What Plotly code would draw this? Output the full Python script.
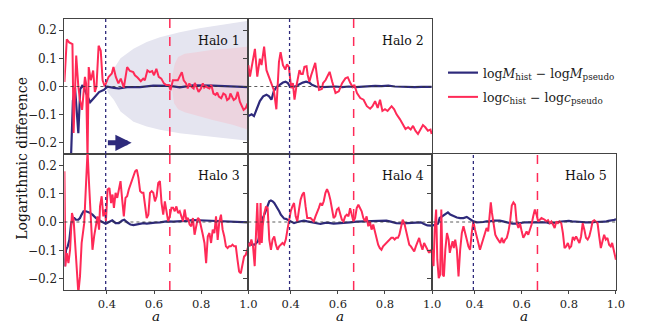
import plotly.graph_objects as go

# (a, value) readings per halo: navy = log M_hist - log M_pseudo, red = log c_hist - log c_pseudo
mass_1 = [(0.22, -0.6), (0.244, -0.35), (0.256, -0.05), (0.265, -0.005), (0.279, -0.166), (0.287, -0.01),
          (0.297, 0.005), (0.315, -0.03), (0.329, -0.056), (0.346, -0.04), (0.367, -0.02), (0.388, -0.012),
          (0.402, -0.001), (0.43, -0.005), (0.451, -0.007), (0.486, -0.002), (0.541, -0.002), (0.597, 0.003),
          (0.667, 0.002), (0.709, -0.003), (0.765, 0.004), (0.849, 0.003), (0.933, 0.0), (1.0, -0.002)]
conc_1 = [(0.22, 0.016), (0.23, 0.168), (0.24, 0.157), (0.247, 0.153), (0.254, 0.151), (0.259, -0.165),
          (0.27, 0.11), (0.279, 0.0), (0.286, -0.048), (0.295, -0.083), (0.307, 0.034), (0.312, 0.01),
          (0.318, -0.26), (0.323, 0.069), (0.332, 0.022), (0.342, 0.057), (0.349, -0.019), (0.356, 0.0),
          (0.365, 0.145), (0.374, 0.127), (0.382, 0.022), (0.391, 0.0), (0.407, 0.034), (0.421, 0.046),
          (0.428, 0.069), (0.438, 0.034), (0.449, 0.011), (0.459, 0.028), (0.472, -0.004), (0.486, 0.069),
          (0.498, 0.055), (0.512, 0.051), (0.519, 0.04), (0.53, 0.032), (0.544, 0.019), (0.554, 0.028),
          (0.561, 0.022), (0.572, 0.057), (0.582, 0.051), (0.592, 0.055), (0.6, 0.04), (0.61, 0.063),
          (0.62, 0.034), (0.631, 0.028), (0.642, 0.011), (0.652, 0.005), (0.663, 0.005), (0.67, -0.013),
          (0.68, 0.022), (0.69, 0.022), (0.701, 0.022), (0.709, 0.036), (0.718, 0.051), (0.726, 0.022),
          (0.736, 0.011), (0.743, -0.007), (0.75, 0.011), (0.759, -0.001), (0.768, -0.007), (0.773, 0.013),
          (0.782, -0.004), (0.789, -0.019), (0.799, -0.007), (0.807, 0.011), (0.813, -0.004), (0.82, 0.001),
          (0.827, -0.004), (0.835, -0.007), (0.843, 0.005), (0.852, -0.025), (0.861, -0.03), (0.868, -0.022),
          (0.875, -0.036), (0.885, -0.042), (0.894, -0.025), (0.903, -0.03), (0.91, -0.048), (0.919, -0.042),
          (0.924, -0.025), (0.931, -0.036), (0.938, -0.048), (0.947, -0.042), (0.955, -0.019), (0.964, -0.054),
          (0.972, -0.071), (0.98, -0.083), (0.989, -0.077), (0.997, -0.06)]

mass_2 = [(0.22, -0.105), (0.234, -0.099), (0.244, -0.105), (0.255, -0.081), (0.269, -0.052), (0.283, -0.035),
          (0.297, -0.029), (0.308, -0.035), (0.318, -0.047), (0.328, -0.017), (0.339, -0.002), (0.353, 0.006),
          (0.367, 0.014), (0.378, 0.017), (0.388, 0.012), (0.395, 0.002), (0.409, -0.002), (0.423, 0.002),
          (0.437, 0.009), (0.451, 0.014), (0.465, 0.017), (0.479, 0.014), (0.49, 0.006), (0.507, 0.0),
          (0.534, -0.002), (0.562, 0.0), (0.59, 0.0), (0.618, -0.002), (0.646, 0.0), (0.674, -0.002),
          (0.702, 0.0), (0.73, 0.002), (0.758, 0.002), (0.786, 0.001), (0.814, 0.003), (0.842, 0.0),
          (0.87, -0.001), (0.898, 0.0), (0.926, -0.002), (0.954, -0.001), (0.982, -0.002), (0.998, -0.001)]
conc_2 = [(0.22, 0.076), (0.227, 0.035), (0.248, 0.134), (0.258, 0.035), (0.269, 0.099), (0.276, 0.076),
          (0.287, 0.142), (0.297, 0.058), (0.307, 0.035), (0.318, 0.012), (0.328, -0.012), (0.339, -0.081),
          (0.35, 0.087), (0.357, 0.122), (0.367, 0.076), (0.377, 0.06), (0.384, 0.079), (0.392, 0.07),
          (0.402, -0.006), (0.409, 0.012), (0.416, -0.047), (0.425, 0.006), (0.437, 0.058), (0.444, 0.044),
          (0.451, 0.044), (0.458, 0.07), (0.467, 0.072), (0.472, 0.041), (0.479, 0.017), (0.487, 0.041),
          (0.504, 0.084), (0.513, 0.026), (0.52, -0.012), (0.532, -0.009), (0.537, 0.012), (0.548, 0.023),
          (0.565, 0.052), (0.576, 0.017), (0.59, -0.023), (0.604, -0.017), (0.618, 0.012), (0.632, 0.029),
          (0.642, 0.033), (0.653, 0.012), (0.663, -0.002), (0.67, 0.006), (0.681, -0.023), (0.695, -0.041),
          (0.709, -0.047), (0.723, -0.07), (0.737, -0.079), (0.747, -0.07), (0.758, -0.052), (0.769, -0.076),
          (0.779, -0.047), (0.789, -0.087), (0.8, -0.081), (0.811, -0.087), (0.821, -0.076), (0.828, -0.07),
          (0.839, -0.081), (0.849, -0.099), (0.863, -0.116), (0.877, -0.134), (0.887, -0.151), (0.898, -0.145),
          (0.909, -0.153), (0.919, -0.14), (0.929, -0.157), (0.94, -0.169), (0.951, -0.151), (0.961, -0.137),
          (0.971, -0.145), (0.982, -0.157), (0.993, -0.153), (0.998, -0.169)]

mass_3 = [(0.22, -0.157), (0.227, -0.098), (0.234, -0.086), (0.241, -0.063), (0.248, -0.009), (0.255, 0.014),
          (0.262, 0.014), (0.269, 0.008), (0.279, 0.008), (0.286, 0.014), (0.293, 0.026), (0.301, 0.038),
          (0.311, 0.038), (0.325, 0.034), (0.339, 0.026), (0.353, 0.014), (0.367, 0.006), (0.381, -0.001),
          (0.395, -0.006), (0.409, 0.0), (0.423, 0.006), (0.437, -0.004), (0.451, -0.004), (0.465, 0.005),
          (0.474, 0.008), (0.486, -0.001), (0.5, -0.009), (0.513, -0.011), (0.527, -0.008), (0.541, -0.006),
          (0.555, -0.004), (0.569, -0.006), (0.583, -0.004), (0.604, -0.002), (0.625, -0.001), (0.653, 0.002),
          (0.681, 0.001), (0.709, 0.002), (0.737, 0.004), (0.765, 0.007), (0.793, 0.006), (0.821, 0.006),
          (0.849, 0.006), (0.877, 0.005), (0.905, 0.004), (0.933, 0.001), (0.961, 0.0), (1.0, -0.001)]
conc_3 = [(0.22, 0.179), (0.224, -0.157), (0.23, -0.11), (0.237, -0.145), (0.244, -0.098), (0.252, 0.032),
          (0.259, 0.008), (0.266, -0.098), (0.273, -0.169), (0.279, -0.251), (0.286, -0.192), (0.293, -0.074),
          (0.304, -0.004), (0.311, 0.138), (0.318, 0.25), (0.325, 0.126), (0.332, -0.004), (0.339, -0.098),
          (0.346, -0.051), (0.353, -0.015), (0.36, 0.02), (0.367, -0.027), (0.371, 0.055), (0.378, 0.091),
          (0.385, 0.02), (0.392, 0.044), (0.396, 0.002), (0.403, 0.115), (0.411, 0.12), (0.418, 0.067),
          (0.424, 0.097), (0.43, 0.05), (0.437, 0.103), (0.444, 0.085), (0.451, 0.115), (0.458, 0.144),
          (0.465, 0.079), (0.472, 0.02), (0.479, 0.085), (0.486, 0.091), (0.493, 0.115), (0.5, 0.132),
          (0.507, 0.15), (0.513, 0.168), (0.52, 0.179), (0.527, 0.185), (0.534, 0.156), (0.541, 0.109),
          (0.548, 0.103), (0.555, 0.103), (0.562, 0.055), (0.569, 0.014), (0.576, 0.026), (0.583, 0.103),
          (0.59, 0.109), (0.597, 0.103), (0.604, 0.073), (0.611, 0.091), (0.618, 0.138), (0.625, 0.144),
          (0.632, 0.067), (0.639, 0.026), (0.646, 0.073), (0.653, 0.032), (0.66, 0.002), (0.667, 0.02),
          (0.674, 0.05), (0.681, 0.05), (0.688, 0.038), (0.695, 0.055), (0.702, 0.032), (0.709, 0.038),
          (0.716, 0.02), (0.723, 0.002), (0.73, 0.044), (0.737, 0.008), (0.744, 0.014), (0.751, -0.009),
          (0.758, -0.015), (0.765, 0.014), (0.772, -0.045), (0.779, -0.015), (0.786, 0.014), (0.793, 0.008),
          (0.8, -0.015), (0.807, -0.045), (0.814, -0.074), (0.821, -0.145), (0.828, -0.051), (0.835, -0.039),
          (0.842, -0.074), (0.849, -0.027), (0.856, -0.039), (0.863, 0.02), (0.87, -0.063), (0.877, 0.002),
          (0.884, 0.026), (0.891, -0.027), (0.898, -0.051), (0.905, -0.086), (0.912, -0.092), (0.919, -0.086),
          (0.926, -0.086), (0.933, -0.08), (0.94, -0.086), (0.947, -0.086), (0.954, -0.133), (0.961, -0.175),
          (0.968, -0.181), (0.975, -0.145), (0.982, -0.122), (0.989, -0.116), (1.0, -0.086)]

mass_4 = [(0.22, -0.074), (0.233, -0.08), (0.247, -0.08), (0.261, -0.068), (0.268, -0.045), (0.275, -0.015),
          (0.281, 0.014), (0.288, 0.026), (0.295, 0.044), (0.302, 0.061), (0.309, 0.073), (0.316, 0.076),
          (0.323, 0.073), (0.33, 0.067), (0.337, 0.058), (0.344, 0.049), (0.351, 0.038), (0.358, 0.026),
          (0.365, 0.02), (0.372, 0.012), (0.379, 0.011), (0.386, 0.008), (0.393, 0.006), (0.4, 0.002),
          (0.407, -0.001), (0.414, -0.004), (0.428, 0.0), (0.442, 0.002), (0.456, 0.005), (0.47, 0.002),
          (0.484, 0.0), (0.498, -0.004), (0.512, -0.006), (0.526, -0.007), (0.54, -0.004), (0.554, -0.002),
          (0.568, -0.004), (0.582, -0.006), (0.596, -0.005), (0.624, -0.002), (0.652, -0.001), (0.68, 0.001),
          (0.708, 0.002), (0.736, 0.002), (0.764, 0.004), (0.792, 0.006), (0.806, 0.005), (0.82, 0.002),
          (0.848, -0.004), (0.875, -0.005), (0.903, -0.004), (0.931, -0.001), (0.952, -0.001), (0.966, -0.007),
          (0.98, -0.012), (0.998, -0.013)]
conc_4 = [(0.22, -0.074), (0.226, -0.086), (0.233, -0.062), (0.24, -0.086), (0.247, -0.156), (0.254, -0.015),
          (0.258, 0.067), (0.263, -0.051), (0.268, -0.08), (0.272, 0.067), (0.277, -0.074), (0.281, -0.015),
          (0.288, 0.032), (0.295, 0.055), (0.302, 0.049), (0.309, -0.062), (0.316, -0.098), (0.323, -0.062),
          (0.33, -0.051), (0.337, -0.08), (0.344, -0.098), (0.351, -0.086), (0.358, -0.08), (0.365, -0.074),
          (0.372, -0.08), (0.379, -0.062), (0.386, -0.027), (0.393, 0.008), (0.4, 0.038), (0.407, 0.055),
          (0.414, 0.067), (0.421, 0.02), (0.428, 0.002), (0.435, 0.044), (0.442, 0.079), (0.449, 0.096),
          (0.456, 0.105), (0.463, 0.055), (0.47, 0.014), (0.477, 0.014), (0.484, 0.014), (0.491, 0.008),
          (0.498, 0.002), (0.505, 0.02), (0.512, 0.032), (0.519, 0.049), (0.526, 0.067), (0.533, 0.058),
          (0.54, 0.073), (0.547, 0.102), (0.554, 0.116), (0.561, 0.102), (0.568, 0.079), (0.575, 0.049),
          (0.582, 0.014), (0.589, 0.02), (0.596, 0.044), (0.603, 0.049), (0.61, 0.026), (0.617, 0.008),
          (0.624, 0.002), (0.631, 0.02), (0.638, 0.026), (0.645, 0.02), (0.652, 0.049), (0.659, 0.026),
          (0.666, 0.002), (0.673, 0.014), (0.68, 0.049), (0.687, 0.061), (0.694, 0.049), (0.701, 0.038),
          (0.708, 0.014), (0.715, 0.002), (0.722, 0.02), (0.729, -0.015), (0.736, 0.002), (0.743, -0.027),
          (0.75, -0.009), (0.757, -0.033), (0.764, -0.062), (0.771, -0.08), (0.778, -0.092), (0.785, -0.098),
          (0.792, -0.086), (0.799, -0.08), (0.806, -0.074), (0.813, -0.068), (0.82, -0.062), (0.827, -0.056),
          (0.834, -0.056), (0.841, -0.062), (0.848, -0.056), (0.855, -0.056), (0.861, -0.045), (0.868, -0.021),
          (0.875, 0.008), (0.882, -0.004), (0.889, -0.027), (0.896, -0.056), (0.903, -0.08), (0.91, -0.086),
          (0.917, -0.098), (0.924, -0.104), (0.931, -0.086), (0.938, -0.068), (0.945, -0.056), (0.952, -0.08),
          (0.959, -0.098), (0.966, -0.074), (0.973, -0.086), (0.98, -0.098), (0.987, -0.109), (0.994, -0.098),
          (0.998, -0.109)]

mass_5 = [(0.22, -0.013), (0.234, -0.009), (0.245, -0.006), (0.252, 0.014), (0.262, 0.02), (0.276, 0.028),
          (0.287, 0.034), (0.297, 0.026), (0.311, 0.02), (0.325, 0.016), (0.339, 0.014), (0.353, 0.014),
          (0.367, 0.018), (0.374, 0.014), (0.381, 0.008), (0.388, 0.005), (0.395, 0.002), (0.409, -0.001),
          (0.423, -0.001), (0.437, 0.0), (0.451, 0.002), (0.465, 0.002), (0.479, 0.005), (0.493, 0.006),
          (0.507, 0.005), (0.521, 0.002), (0.534, -0.001), (0.548, -0.004), (0.562, -0.006), (0.576, -0.006),
          (0.59, -0.004), (0.604, -0.004), (0.618, -0.001), (0.632, -0.001), (0.646, -0.001), (0.66, -0.001),
          (0.674, 0.0), (0.688, 0.0), (0.702, -0.001), (0.716, -0.004), (0.73, -0.004), (0.744, -0.002),
          (0.758, 0.001), (0.772, 0.002), (0.786, 0.004), (0.8, 0.004), (0.814, 0.002), (0.828, 0.002),
          (0.842, 0.001), (0.856, 0.0), (0.87, -0.001), (0.884, -0.002), (0.898, -0.001), (0.912, 0.0),
          (0.926, 0.0), (0.94, 0.001), (0.954, 0.001), (0.968, 0.004), (0.982, 0.006), (0.996, 0.008),
          (1.0, 0.012)]
conc_5 = [(0.22, -0.098), (0.226, -0.156), (0.231, -0.027), (0.237, 0.044), (0.242, -0.133), (0.248, -0.198),
          (0.254, -0.186), (0.259, 0.044), (0.265, -0.186), (0.27, -0.192), (0.276, -0.098), (0.283, -0.039),
          (0.29, -0.062), (0.295, -0.109), (0.301, -0.086), (0.307, -0.068), (0.312, -0.092), (0.318, -0.062),
          (0.325, -0.098), (0.332, -0.192), (0.339, -0.098), (0.346, -0.039), (0.353, -0.015), (0.36, -0.045),
          (0.367, -0.062), (0.374, -0.086), (0.381, -0.098), (0.388, -0.039), (0.395, 0.002), (0.402, -0.027),
          (0.409, -0.056), (0.416, -0.074), (0.423, -0.098), (0.43, -0.08), (0.437, -0.062), (0.444, -0.039),
          (0.451, -0.021), (0.458, -0.033), (0.465, 0.02), (0.469, 0.069), (0.474, 0.032), (0.481, -0.015),
          (0.488, -0.045), (0.495, -0.056), (0.502, -0.068), (0.509, -0.074), (0.516, -0.056), (0.523, -0.074),
          (0.53, -0.062), (0.537, -0.056), (0.544, -0.033), (0.551, 0.002), (0.558, 0.058), (0.565, 0.069),
          (0.572, 0.061), (0.579, -0.004), (0.586, -0.021), (0.593, -0.004), (0.6, -0.033), (0.607, -0.056),
          (0.614, -0.045), (0.621, -0.033), (0.628, -0.045), (0.635, -0.027), (0.642, -0.009), (0.649, 0.02),
          (0.656, 0.044), (0.663, 0.026), (0.67, 0.002), (0.677, 0.008), (0.684, 0.014), (0.691, 0.011),
          (0.698, 0.008), (0.705, 0.002), (0.712, 0.006), (0.719, -0.004), (0.726, 0.002), (0.733, -0.009),
          (0.74, -0.021), (0.747, 0.002), (0.754, -0.004), (0.761, 0.002), (0.768, -0.004), (0.775, -0.039),
          (0.782, -0.092), (0.789, -0.086), (0.796, -0.074), (0.803, -0.092), (0.81, -0.086), (0.817, -0.053),
          (0.824, -0.062), (0.831, -0.051), (0.838, -0.062), (0.845, -0.074), (0.852, -0.051), (0.859, -0.004),
          (0.866, -0.027), (0.873, -0.056), (0.88, -0.062), (0.887, -0.051), (0.894, -0.027), (0.901, 0.002),
          (0.908, 0.006), (0.915, 0.002), (0.922, -0.004), (0.929, -0.051), (0.936, -0.092), (0.943, -0.068),
          (0.95, -0.045), (0.957, -0.062), (0.964, -0.056), (0.971, -0.08), (0.978, -0.086), (0.984, -0.074),
          (0.991, -0.098), (0.996, -0.121), (1.0, -0.133)]

# halo 1 envelopes (outline of the shaded bands)
band_mass = [(0.396, 0.0), (0.405, 0.028), (0.43, 0.064), (0.458, 0.1), (0.513, 0.134), (0.569, 0.158),
             (0.625, 0.175), (0.709, 0.193), (0.793, 0.207), (0.905, 0.222), (1.0, 0.234),
             (1.0, -0.193), (0.905, -0.184), (0.793, -0.174), (0.709, -0.166), (0.625, -0.154),
             (0.569, -0.142), (0.513, -0.125), (0.458, -0.089), (0.43, -0.048), (0.405, -0.022)]
band_conc = [(0.678, 0.04), (0.688, 0.081), (0.702, 0.105), (0.73, 0.116), (0.779, 0.122), (0.849, 0.131),
             (0.933, 0.136), (1.0, 0.142), (1.0, -0.154), (0.933, -0.136), (0.849, -0.119), (0.779, -0.104),
             (0.73, -0.092), (0.702, -0.081), (0.685, -0.06), (0.678, -0.019)]

a_early = 0.395
a_late = 0.667
halo_names = ['Halo 1', 'Halo 2', 'Halo 3', 'Halo 4', 'Halo 5']

NAVY = '#2e2a7b'
RED = '#ff2a57'
FONT = 'DejaVu Serif'

W, H = 671, 323
x_dom = [(65.3 / W, 251.7 / W), (251.7 / W, 438 / W), (65.3 / W, 251.7 / W), (251.7 / W, 438 / W), (438 / W, 624.3 / W)]
y_top = (1 - 154 / H, 1 - 19 / H)
y_bot = (1 - 290 / H, 1 - 154 / H)
y_dom = [y_top, y_top, y_bot, y_bot, y_bot]

fig = go.Figure()

def add_band(pts, color, xa, ya):
    fig.add_trace(go.Scatter(x=[p[0] for p in pts] + [pts[0][0]], y=[p[1] for p in pts] + [pts[0][1]],
                             fill='toself', fillcolor=color, mode='lines', line=dict(width=0),
                             hoverinfo='skip', showlegend=False, xaxis=xa, yaxis=ya))

add_band(band_mass, '#e5e5f0', 'x', 'y')
add_band(band_conc, '#ecd4df', 'x', 'y')

series = [(mass_1, conc_1), (mass_2, conc_2), (mass_3, conc_3), (mass_4, conc_4), (mass_5, conc_5)]
for i, (m, c) in enumerate(series):
    xa = 'x' if i == 0 else f'x{i + 1}'
    ya = 'y' if i == 0 else f'y{i + 1}'
    fig.add_trace(go.Scatter(x=[p[0] for p in m], y=[p[1] for p in m], mode='lines',
                             line=dict(color=NAVY, width=2.2), legendgroup='mass',
                             name='log<i>M</i><sub>hist</sub> \u2212 log<i>M</i><sub>pseudo</sub>',
                             showlegend=(i == 0), xaxis=xa, yaxis=ya))
    fig.add_trace(go.Scatter(x=[p[0] for p in c], y=[p[1] for p in c], mode='lines',
                             line=dict(color=RED, width=2), legendgroup='conc',
                             name='log<i>c</i><sub>hist</sub> \u2212 log<i>c</i><sub>pseudo</sub>',
                             showlegend=(i == 0), xaxis=xa, yaxis=ya))

layout = dict(width=W, height=H, margin=dict(l=0, r=0, t=0, b=0),
              paper_bgcolor='white', plot_bgcolor='white',
              font=dict(family=FONT, size=12, color='#222'),
              legend=dict(x=449 / W, y=1 - 58 / H, xanchor='left', yanchor='top',
                          bgcolor='rgba(0,0,0,0)', font=dict(size=12.5), tracegroupgap=5),
              shapes=[], annotations=[])

for i in range(5):
    key = '' if i == 0 else str(i + 1)
    bottom = i >= 2
    layout['xaxis' + key] = dict(domain=x_dom[i], range=[0.22, 1.0], anchor='y' + key,
                                 showline=True, mirror=True, linecolor='#444', linewidth=1,
                                 showgrid=False, zeroline=False,
                                 tickvals=[0.4, 0.6, 0.8, 1.0], tickformat='.1f',
                                 ticks='outside' if bottom else '', ticklen=3, tickcolor='#444',
                                 showticklabels=bottom, tickfont=dict(size=11.5))
    layout['yaxis' + key] = dict(domain=y_dom[i], range=[-0.24, 0.24], anchor='x' + key,
                                 showline=True, mirror=True, linecolor='#444', linewidth=1,
                                 showgrid=False, zeroline=False,
                                 tickvals=[-0.2, -0.1, 0.0, 0.1, 0.2], tickformat='.1f',
                                 ticks='outside', ticklen=4, tickcolor='#444',
                                 showticklabels=(i in (0, 2)), tickfont=dict(size=12))
    xr = 'x' + key
    yr = 'y' + key
    layout['shapes'] += [
        dict(type='line', xref=xr + ' domain', yref=yr, x0=0, x1=1, y0=0, y1=0,
             line=dict(color='#333', width=0.8, dash='dot'), layer='above'),
        dict(type='line', xref=xr, yref=yr + ' domain', x0=a_early, x1=a_early, y0=0, y1=1,
             line=dict(color=NAVY, width=1.3, dash='dot'), layer='above'),
        dict(type='line', xref=xr, yref=yr + ' domain', x0=a_late, x1=a_late, y0=0, y1=1,
             line=dict(color=RED, width=1.5, dash='dash'), layer='above'),
    ]
    layout['annotations'].append(dict(text=halo_names[i], xref=xr + ' domain', yref=yr + ' domain',
                                      x=0.965, y=0.84, xanchor='right', yanchor='middle',
                                      showarrow=False, font=dict(size=12.5, color='#111')))
    if bottom:
        layout['annotations'].append(dict(text='<i>a</i>', xref=xr + ' domain', yref='paper',
                                          x=0.5, y=1 - 316 / H, xanchor='center', yanchor='middle',
                                          showarrow=False, font=dict(size=13.5, color='#111')))

layout['annotations'].append(dict(text='Logarithmic difference', xref='paper', yref='paper',
                                  x=22 / W, y=1 - 158 / H, textangle=-90, showarrow=False,
                                  xanchor='center', yanchor='middle', font=dict(size=14, color='#111')))
# arrow marking the growth direction in halo 1
layout['annotations'].append(dict(x=0.505, y=-0.2, ax=0.398, ay=-0.2, xref='x', yref='y', axref='x', ayref='y',
                                  text='', showarrow=True, arrowhead=2, arrowsize=0.65, arrowwidth=5,
                                  arrowcolor=NAVY))

fig.update_layout(**layout)
fig.write_html("out.html", config={'displayModeBar': False},
               post_script="document.body.style.margin='0';")
